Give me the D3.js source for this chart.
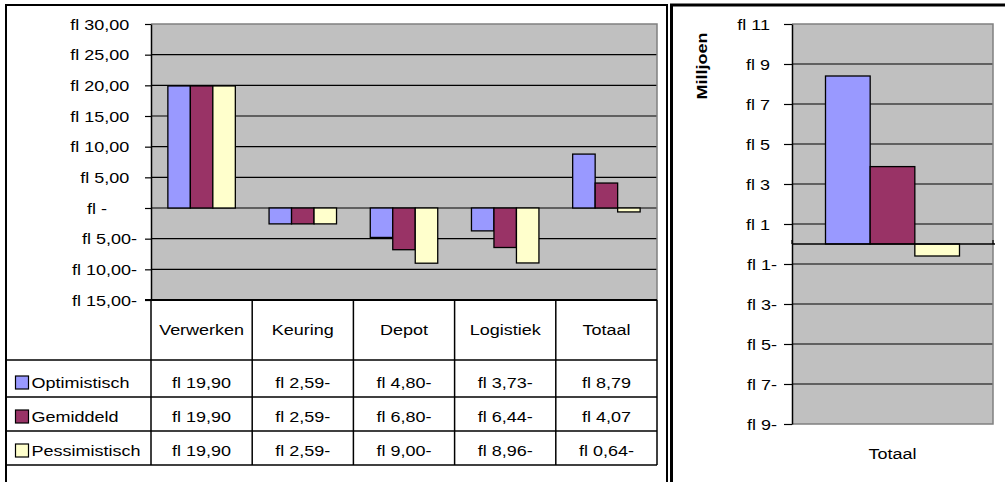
<!DOCTYPE html>
<html>
<head>
<meta charset="utf-8">
<script src="https://cdn.jsdelivr.net/npm/d3@7/dist/d3.min.js"></script>
<style>
  html, body { margin: 0; padding: 0; background: #fff; }
  svg { display: block; }
  text { font-family: "Liberation Sans", Arial, sans-serif; font-size: 15px; fill: #000; }
</style>
</head>
<body>
<svg id="chart" width="1005" height="482"></svg>
<script>
// Kosten per onderdeel, drie scenario's
const categories = ["Verwerken", "Keuring", "Depot", "Logistiek", "Totaal"];
const seriesNames = ["Optimistisch", "Gemiddeld", "Pessimistisch"];
const optimistisch = [19.90, -2.59, -4.80, -3.73, 8.79];
const gemiddeld = [19.90, -2.59, -6.80, -6.44, 4.07];
const pessimistisch = [19.90, -2.59, -9.00, -8.96, -0.64];
const seriesColors = ["#9999FF", "#993366", "#FFFFCC"];
const leftTicks = [30, 25, 20, 15, 10, 5, 0, -5, -10, -15];

// Totaal in miljoenen
const totaalCategories = ["Totaal"];
const totaalMiljoen = [8.40, 3.87, -0.60];
const rightTicks = [11, 9, 7, 5, 3, 1, -1, -3, -5, -7, -9];

const SX = 1.2; // horizontal glyph widening of the Excel font
const svg = d3.select("#chart");

function label(g, x, y, s, anchor, extra) {
  return g.append("text")
    .attr("transform", `translate(${x},${y}) ${extra || ""} scale(${SX},1)`)
    .attr("text-anchor", anchor)
    .text(s);
}

function fl(v, decimals) {
  if (v === 0) return "fl -";
  const a = Math.abs(v).toFixed(decimals).replace(".", ",");
  return "fl " + a + (v < 0 ? "-" : "");
}

// ---------- Left chart ----------
const L = { x0: 151, x1: 657, y0: 24, y1: 300 };
const yL = d3.scaleLinear().domain([-15, 30]).range([L.y1, L.y0]);
const xL = d3.scaleBand().domain(categories).range([L.x0, L.x1]);
const xLs = d3.scaleBand().domain(seriesNames)
  .range([xL.bandwidth() / 6, xL.bandwidth() * 5 / 6]);

const gl = svg.append("g");
gl.append("rect").attr("x", L.x0).attr("y", L.y0)
  .attr("width", L.x1 - L.x0).attr("height", L.y1 - L.y0).attr("fill", "#C0C0C0");

// gridlines
gl.selectAll("line.grid").data(leftTicks.filter(t => t < 30 && t > -15)).join("line")
  .attr("x1", L.x0).attr("x2", L.x1)
  .attr("y1", d => yL(d)).attr("y2", d => yL(d))
  .attr("stroke", "#000").attr("stroke-width", 1.2);
// plot border (top, right)
gl.append("path")
  .attr("d", `M${L.x0},${L.y0}H${L.x1}V${L.y1}`)
  .attr("fill", "none").attr("stroke", "#808080").attr("stroke-width", 1.5);

const leftData = [optimistisch, gemiddeld, pessimistisch];
leftData.forEach((vals, si) => {
  gl.selectAll(null).data(vals).join("rect")
    .attr("x", (d, i) => xL(categories[i]) + xLs(seriesNames[si]))
    .attr("width", xLs.bandwidth())
    .attr("y", d => Math.min(yL(d), yL(0)))
    .attr("height", d => Math.abs(yL(d) - yL(0)))
    .attr("fill", seriesColors[si])
    .attr("stroke", "#000").attr("stroke-width", 1.3);
});

// value axis
const axL = gl.append("g").attr("transform", `translate(${L.x0},0)`)
  .call(d3.axisLeft(yL).tickValues(leftTicks).tickSize(6).tickSizeOuter(0).tickFormat(d => fl(d, 2)));
axL.select(".domain").attr("stroke", "#000").attr("stroke-width", 1.5);
axL.selectAll(".tick line").attr("stroke", "#000").attr("stroke-width", 1.2);
axL.selectAll(".tick text")
  .attr("x", null).attr("dy", null).attr("font-size", null).attr("font-family", null)
  .attr("fill", "#000")
  .attr("text-anchor", "end")
  .attr("transform", d => `translate(${d === 0 ? -44 : (d > 0 ? -21.7 : -14)},5.3) scale(${SX},1)`);

// data table
const T = { left: 7, top: L.y1, head: 360, rows: [397, 431, 465] };
const tbl = svg.append("g");
const colEdges = categories.map(c => xL(c)).concat([L.x1]);
tbl.selectAll(null).data(colEdges).join("line")
  .attr("x1", d => d).attr("x2", d => d)
  .attr("y1", T.top).attr("y2", T.rows[2])
  .attr("stroke", "#000").attr("stroke-width", 1.5);
tbl.append("line").attr("x1", L.x0 - 6).attr("x2", L.x1).attr("y1", T.top).attr("y2", T.top)
  .attr("stroke", "#000").attr("stroke-width", 2);
[T.head].concat(T.rows).forEach(yy => {
  tbl.append("line").attr("x1", T.left).attr("x2", L.x1).attr("y1", yy).attr("y2", yy)
    .attr("stroke", "#000").attr("stroke-width", 1.5);
});
categories.forEach(c => label(tbl, xL(c) + xL.bandwidth() / 2, 335, c, "middle"));
const rowTops = [T.head].concat(T.rows.slice(0, 2));
leftData.forEach((vals, si) => {
  const base = T.rows[si] - 9;
  tbl.append("rect").attr("x", 15.5).attr("y", base - 12).attr("width", 13).attr("height", 13)
    .attr("fill", seriesColors[si]).attr("stroke", "#000").attr("stroke-width", 1.2);
  label(tbl, 31.5, base, seriesNames[si], "start");
  vals.forEach((v, i) => label(tbl, xL(categories[i]) + xL.bandwidth() / 2, base, fl(v, 2), "middle"));
});

// chart frame
svg.append("path").attr("d", "M6,490V5H667V490")
  .attr("fill", "none").attr("stroke", "#000").attr("stroke-width", 2);

// ---------- Right chart ----------
const R = { x0: 792, x1: 993, y0: 24, y1: 424 };
const yR = d3.scaleLinear().domain([-9, 11]).range([R.y1, R.y0]);
const xR = d3.scaleBand().domain(totaalCategories).range([R.x0, R.x1]);
const xRs = d3.scaleBand().domain(seriesNames)
  .range([xR.bandwidth() / 6, xR.bandwidth() * 5 / 6]);

const gr = svg.append("g");
gr.append("rect").attr("x", R.x0).attr("y", R.y0)
  .attr("width", R.x1 - R.x0).attr("height", R.y1 - R.y0).attr("fill", "#C0C0C0");
gr.selectAll(null).data(rightTicks.filter(t => t < 11 && t > -9)).join("line")
  .attr("x1", R.x0).attr("x2", R.x1)
  .attr("y1", d => yR(d)).attr("y2", d => yR(d))
  .attr("stroke", "#000").attr("stroke-width", 1.2);
gr.append("path")
  .attr("d", `M${R.x0},${R.y0}H${R.x1}V${R.y1}H${R.x0}`)
  .attr("fill", "none").attr("stroke", "#808080").attr("stroke-width", 1.5);

gr.selectAll(null).data(totaalMiljoen).join("rect")
  .attr("x", (d, i) => xR("Totaal") + xRs(seriesNames[i]))
  .attr("width", xRs.bandwidth())
  .attr("y", d => Math.min(yR(d), yR(0)))
  .attr("height", d => Math.abs(yR(d) - yR(0)))
  .attr("fill", (d, i) => seriesColors[i])
  .attr("stroke", "#000").attr("stroke-width", 1.3);

// category axis at zero
gr.append("line").attr("x1", R.x0).attr("x2", R.x1 + 2).attr("y1", yR(0)).attr("y2", yR(0))
  .attr("stroke", "#000").attr("stroke-width", 1.5);
gr.selectAll(null).data([R.x0, R.x1]).join("line")
  .attr("x1", d => d).attr("x2", d => d).attr("y1", yR(0) - 4).attr("y2", yR(0))
  .attr("stroke", "#000").attr("stroke-width", 1.2);

const axR = gr.append("g").attr("transform", `translate(${R.x0},0)`)
  .call(d3.axisLeft(yR).tickValues(rightTicks).tickSize(8).tickSizeOuter(0).tickFormat(d => fl(d, 0)));
axR.select(".domain").attr("stroke", "#000").attr("stroke-width", 1.5);
axR.selectAll(".tick line").attr("stroke", "#000").attr("stroke-width", 1.2);
axR.selectAll(".tick text")
  .attr("x", null).attr("dy", null).attr("font-size", null).attr("font-family", null)
  .attr("fill", "#000")
  .attr("text-anchor", "end")
  .attr("transform", d => `translate(${d > 0 ? -22 : -15},5.3) scale(${SX},1)`);

label(gr, xR("Totaal") + xR.bandwidth() / 2, 459, "Totaal", "middle");
label(gr, 707, 66, "Milljoen", "middle", "rotate(-90)").attr("font-weight", "bold");

svg.append("path").attr("d", "M671.5,490V5H1010")
  .attr("fill", "none").attr("stroke", "#000").attr("stroke-width", 3);
</script>
</body>
</html>
